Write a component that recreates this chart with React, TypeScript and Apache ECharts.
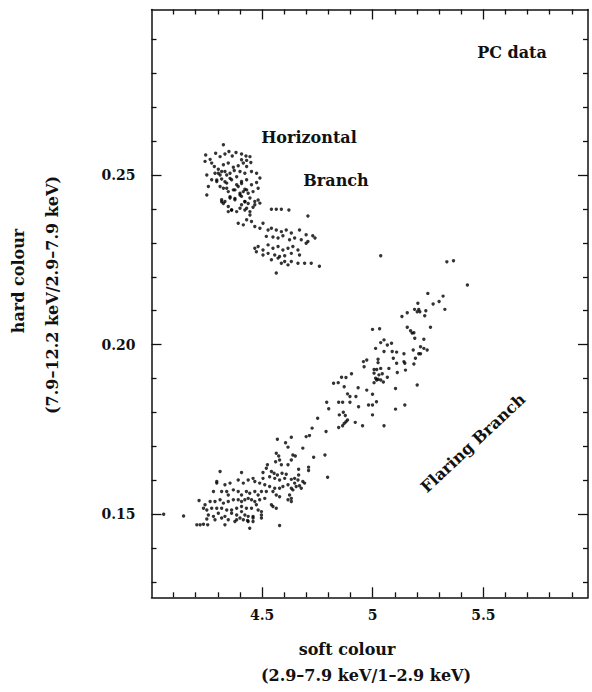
import React, { useEffect, useRef } from "react";
import * as echarts from "echarts";

// ---- axis definitions ----
const xMajorTicks = [4.5, 5, 5.5];
const xMinorTicks = [4.1, 4.2, 4.3, 4.4, 4.6, 4.7, 4.8, 4.9, 5.1, 5.2, 5.3, 5.4, 5.6, 5.7, 5.8, 5.9];
const yMajorTicks = [0.15, 0.2, 0.25];
const yMinorTicks = [0.13, 0.14, 0.16, 0.17, 0.18, 0.19, 0.21, 0.22, 0.23, 0.24, 0.26, 0.27, 0.28, 0.29];
const xExtent = [4.0, 5.973];
const yExtent = [0.12555, 0.29876];

// ---- labels ----
const xTitle = "soft colour";
const xSubTitle = "(2.9–7.9 keV/1–2.9 keV)";
const yTitle = "hard colour";
const ySubTitle = "(7.9–12.2 keV/2.9–7.9 keV)";
const noteData = "PC data";
const noteHB1 = "Horizontal";
const noteHB2 = "Branch";
const noteFB = "Flaring Branch";

// ---- data: [soft colour, hard colour] ----
const horizontalBranch: [number, number][] = [
  [4.325,0.2589],[4.245,0.2559],[4.265,0.2546],[4.290,0.2564],[4.310,0.2554],[4.332,0.2562],[4.350,0.2569],[4.365,0.2556],[4.382,0.2566],[4.407,0.2562],
  [4.427,0.2556],[4.445,0.2554],[4.430,0.2543],[4.407,0.2545],[4.242,0.2540],[4.272,0.2535],[4.284,0.2525],[4.302,0.2517],[4.325,0.2530],[4.347,0.2535],
  [4.370,0.2523],[4.392,0.2527],[4.415,0.2535],[4.430,0.2525],[4.449,0.2537],[4.287,0.2505],[4.310,0.2500],[4.332,0.2510],[4.355,0.2505],[4.374,0.2513],
  [4.400,0.2510],[4.422,0.2505],[4.452,0.2510],[4.475,0.2505],[4.250,0.2500],[4.272,0.2486],[4.295,0.2481],[4.317,0.2488],[4.340,0.2476],[4.362,0.2486],
  [4.385,0.2471],[4.407,0.2481],[4.430,0.2486],[4.452,0.2471],[4.475,0.2478],[4.490,0.2491],[4.257,0.2466],[4.325,0.2461],[4.347,0.2451],[4.377,0.2456],
  [4.400,0.2446],[4.422,0.2458],[4.437,0.2446],[4.459,0.2451],[4.482,0.2461],[4.250,0.2441],[4.317,0.2427],[4.332,0.2422],[4.355,0.2432],[4.377,0.2427],
  [4.407,0.2437],[4.422,0.2422],[4.445,0.2432],[4.467,0.2422],[4.490,0.2417],[4.542,0.2399],[4.564,0.2399],[4.587,0.2399],[4.621,0.2397],[4.347,0.2392],
  [4.362,0.2397],[4.400,0.2402],[4.422,0.2397],[4.445,0.2392],[4.459,0.2405],[4.707,0.2379],[4.392,0.2358],[4.415,0.2353],[4.430,0.2368],[4.452,0.2363],
  [4.467,0.2348],[4.490,0.2343],[4.504,0.2358],[4.527,0.2338],[4.542,0.2343],[4.564,0.2338],[4.587,0.2333],[4.609,0.2338],[4.632,0.2329],[4.669,0.2338],
  [4.699,0.2324],[4.729,0.2321],[4.739,0.2314],[4.519,0.2319],[4.549,0.2317],[4.572,0.2314],[4.594,0.2321],[4.624,0.2309],[4.647,0.2314],[4.677,0.2309],
  [4.707,0.2304],[4.467,0.2284],[4.482,0.2289],[4.504,0.2279],[4.527,0.2294],[4.549,0.2284],[4.572,0.2289],[4.594,0.2279],[4.617,0.2284],[4.639,0.2289],
  [4.662,0.2279],[4.504,0.2264],[4.527,0.2269],[4.557,0.2264],[4.579,0.2260],[4.602,0.2262],[4.632,0.2269],[4.669,0.2264],[4.699,0.2299],[4.474,0.2274],
  [4.542,0.2250],[4.572,0.2255],[4.602,0.2245],[4.632,0.2245],[4.662,0.2240],[4.692,0.2240],[4.722,0.2240],[4.759,0.2231],[4.564,0.2211],[4.617,0.2235],
  [4.587,0.2240],[4.302,0.2505],[4.317,0.2510],[4.340,0.2500],[4.295,0.2485],[4.332,0.2480],[4.355,0.2490],[4.385,0.2495],[4.407,0.2475],[4.310,0.2466],
  [4.340,0.2461],[4.370,0.2456],[4.392,0.2466],[4.415,0.2451],[4.430,0.2456],[4.355,0.2436],[4.377,0.2431],[4.400,0.2441],[4.422,0.2421],[4.437,0.2416],
  [4.317,0.2421],[4.325,0.2416],[4.347,0.2407],[4.362,0.2397],[4.385,0.2392],[4.407,0.2412],[4.430,0.2402],[4.445,0.2382],[4.467,0.2412],[4.482,0.2426],
  [5.036,0.2262]
];

const flaringBranch: [number, number][] = [
  [4.789,0.1744],[4.632,0.1727],[4.569,0.1721],[4.699,0.1729],[4.714,0.1732],[4.606,0.1711],[4.617,0.1698],[4.684,0.1695],[4.784,0.1675],[4.733,0.1668],
  [4.796,0.1609],[4.564,0.1680],[4.575,0.1672],[4.579,0.1660],[4.561,0.1655],[4.587,0.1646],[4.617,0.1646],[4.632,0.1660],[4.650,0.1672],[4.639,0.1675],
  [4.524,0.1646],[4.504,0.1623],[4.519,0.1636],[4.665,0.1633],[4.710,0.1639],[4.710,0.1629],[4.542,0.1626],[4.554,0.1621],[4.569,0.1616],[4.590,0.1621],
  [4.609,0.1618],[4.534,0.1611],[4.557,0.1606],[4.579,0.1601],[4.602,0.1606],[4.632,0.1603],[4.647,0.1592],[4.662,0.1601],[4.665,0.1616],[4.684,0.1597],
  [4.692,0.1592],[4.647,0.1606],[4.407,0.1623],[4.310,0.1626],[4.295,0.1597],[4.295,0.1592],[4.332,0.1587],[4.355,0.1592],[4.392,0.1601],[4.415,0.1592],
  [4.437,0.1601],[4.459,0.1606],[4.467,0.1597],[4.489,0.1592],[4.504,0.1606],[4.512,0.1587],[4.534,0.1582],[4.557,0.1577],[4.579,0.1577],[4.594,0.1582],
  [4.617,0.1587],[4.632,0.1577],[4.654,0.1582],[4.669,0.1584],[4.677,0.1577],[4.280,0.1567],[4.317,0.1567],[4.340,0.1567],[4.347,0.1557],[4.370,0.1572],
  [4.392,0.1567],[4.407,0.1557],[4.429,0.1567],[4.444,0.1562],[4.467,0.1567],[4.482,0.1557],[4.497,0.1567],[4.519,0.1567],[4.549,0.1567],[4.564,0.1557],
  [4.579,0.1552],[4.624,0.1557],[4.632,0.1547],[4.617,0.1543],[4.639,0.1572],[4.215,0.1541],[4.242,0.1528],[4.265,0.1538],[4.287,0.1538],[4.310,0.1543],
  [4.325,0.1533],[4.347,0.1538],[4.370,0.1543],[4.392,0.1543],[4.407,0.1538],[4.422,0.1543],[4.437,0.1547],[4.452,0.1543],[4.467,0.1538],[4.489,0.1543],
  [4.512,0.1547],[4.542,0.1528],[4.564,0.1518],[4.549,0.1523],[4.632,0.1538],[4.235,0.1518],[4.250,0.1513],[4.272,0.1518],[4.295,0.1518],[4.317,0.1518],
  [4.340,0.1513],[4.362,0.1513],[4.385,0.1518],[4.407,0.1523],[4.429,0.1518],[4.452,0.1518],[4.474,0.1528],[4.482,0.1513],[4.497,0.1508],[4.257,0.1498],
  [4.280,0.1494],[4.302,0.1503],[4.332,0.1494],[4.362,0.1503],[4.385,0.1498],[4.400,0.1489],[4.422,0.1498],[4.437,0.1494],[4.459,0.1494],[4.497,0.1498],
  [4.407,0.1508],[4.250,0.1486],[4.287,0.1484],[4.317,0.1489],[4.347,0.1484],[4.385,0.1484],[4.415,0.1484],[4.434,0.1482],[4.459,0.1489],[4.497,0.1489],
  [4.205,0.1469],[4.220,0.1469],[4.235,0.1471],[4.254,0.1469],[4.332,0.1469],[4.377,0.1479],[4.437,0.1479],[4.459,0.1479],[4.444,0.1459],[4.579,0.1467],
  [4.055,0.1500],[4.145,0.1495],
  [4.792,0.1830],[4.846,0.1830],[4.864,0.1830],[4.897,0.1847],[4.924,0.1847],[4.897,0.1830],[4.936,0.1817],[4.981,0.1822],[4.999,0.1822],[5.017,0.1832],
  [4.801,0.1811],[4.849,0.1793],[4.867,0.1801],[4.876,0.1791],[4.999,0.1793],[4.751,0.1783],[4.886,0.1778],[4.879,0.1773],[4.871,0.1768],[4.921,0.1771],
  [4.954,0.1761],[4.864,0.1761],[4.846,0.1756],[5.051,0.1761],[4.726,0.1754],
  [4.823,0.1886],[4.844,0.1888],[4.859,0.1904],[4.879,0.1903],[4.871,0.1876],[4.886,0.1855],[4.904,0.1914],[4.934,0.1873],
  [5.428,0.2176],[5.249,0.2151],[5.318,0.2143],[5.300,0.2127],[5.273,0.2120],[5.204,0.2122],[5.189,0.2104],[5.208,0.2104],[5.213,0.2097],[5.201,0.2097],
  [5.156,0.2094],[5.132,0.2083],[5.326,0.2104],[5.240,0.2100],[5.235,0.2085],[5.261,0.2051],[5.156,0.2051],[5.171,0.2041],[5.178,0.2034],[5.186,0.2035],
  [5.190,0.2019],[5.231,0.2016],[4.999,0.2045],[5.031,0.2047],[5.036,0.2006],[5.051,0.2014],[5.066,0.1999],[5.085,0.2004],[5.013,0.1989],[5.216,0.1994],
  [5.231,0.1989],[5.246,0.1984],[5.183,0.1984],[5.208,0.1973],[5.216,0.1973],[5.193,0.1960],[5.051,0.1980],[5.088,0.1980],[5.108,0.1978],[5.141,0.1973],
  [5.141,0.1950],[5.093,0.1960],[5.108,0.1945],[5.145,0.1945],[5.186,0.1943],[5.024,0.1957],[5.024,0.1947],[4.958,0.1950],[4.973,0.1955],[4.961,0.1935],
  [5.006,0.1927],[5.018,0.1927],[5.036,0.1930],[5.073,0.1930],[5.148,0.1925],[5.111,0.1918],[5.006,0.1916],[5.028,0.1911],[5.043,0.1914],[5.066,0.1904],
  [5.013,0.1901],[5.024,0.1898],[5.018,0.1896],[5.036,0.1896],[5.048,0.1890],[5.006,0.1888],[5.201,0.1881],[5.103,0.1871],[4.973,0.1866],[4.999,0.1854],
  [5.103,0.1810],[5.145,0.1822],
  [5.335,0.2244],[5.365,0.2247]
];

const FONT = "DejaVu Serif";
const INK = "#111";

function makeX(position: "top" | "bottom", ticks: number[], len: number, labels: boolean, line: boolean) {
  return {
    type: "value",
    position,
    min: xExtent[0],
    max: xExtent[1],
    axisLine: { show: line, onZero: false, lineStyle: { color: INK, width: 1.5 } },
    axisTick: { show: true, inside: true, length: len, customValues: ticks, lineStyle: { color: INK, width: 1.3 } },
    axisLabel: labels
      ? { show: true, customValues: ticks, margin: 11, color: INK, fontFamily: FONT, fontWeight: "bold", fontSize: 14, formatter: (v: number) => String(v) }
      : { show: false },
    splitLine: { show: false },
  };
}

function makeY(position: "left" | "right", ticks: number[], len: number, labels: boolean, line: boolean) {
  return {
    type: "value",
    position,
    min: yExtent[0],
    max: yExtent[1],
    axisLine: { show: line, onZero: false, lineStyle: { color: INK, width: 1.5 } },
    axisTick: { show: true, inside: true, length: len, customValues: ticks, lineStyle: { color: INK, width: 1.3 } },
    axisLabel: labels
      ? { show: true, customValues: ticks, margin: 16, color: INK, fontFamily: FONT, fontWeight: "bold", fontSize: 14, formatter: (v: number) => v.toFixed(2) }
      : { show: false },
    splitLine: { show: false },
  };
}

function txt(text: string, x: number, y: number, size: number, rotation = 0) {
  return {
    type: "text",
    x,
    y,
    rotation,
    style: {
      text,
      fill: INK,
      font: `bold ${size}px "${FONT}"`,
      align: "center",
      verticalAlign: "middle",
    },
  };
}

export default function App() {
  const ref = useRef<HTMLDivElement>(null);
  useEffect(() => {
    if (!ref.current) return;
    const chart = echarts.init(ref.current, undefined, { renderer: "svg" });
    chart.setOption({
      animation: false,
      backgroundColor: "#fff",
      grid: { left: 151.5, right: 4, top: 9.5, bottom: 94.7 },
      xAxis: [
        makeX("bottom", xMajorTicks, 10, true, true),
        makeX("bottom", xMinorTicks, 5, false, false),
        makeX("top", xMajorTicks, 10, false, true),
        makeX("top", xMinorTicks, 5, false, false),
      ],
      yAxis: [
        makeY("left", yMajorTicks, 10, true, true),
        makeY("left", yMinorTicks, 5, false, false),
        makeY("right", yMajorTicks, 10, false, true),
        makeY("right", yMinorTicks, 5, false, false),
      ],
      series: [
        {
          type: "scatter",
          xAxisIndex: 0,
          yAxisIndex: 0,
          data: horizontalBranch,
          symbol: "circle",
          symbolSize: 3.4,
          itemStyle: { color: "#000" },
        },
        {
          type: "scatter",
          xAxisIndex: 0,
          yAxisIndex: 0,
          data: flaringBranch,
          symbol: "circle",
          symbolSize: 3.4,
          itemStyle: { color: "#000" },
        },
      ],
      graphic: [
        txt(xTitle, 347, 649, 16),
        txt(xSubTitle, 366, 675, 16),
        txt(yTitle, 18, 281, 16, Math.PI / 2),
        txt(ySubTitle, 52, 295, 16, Math.PI / 2),
        txt(noteData, 512, 52, 16),
        txt(noteHB1, 309, 137, 16),
        txt(noteHB2, 336, 180, 16),
        txt(noteFB, 473, 443, 16, 0.75),
      ],
    });
    return () => chart.dispose();
  }, []);
  return (
    <div
      ref={ref}
      style={{ position: "fixed", left: 0, top: 0, width: 592, height: 692, background: "#fff" }}
    />
  );
}
